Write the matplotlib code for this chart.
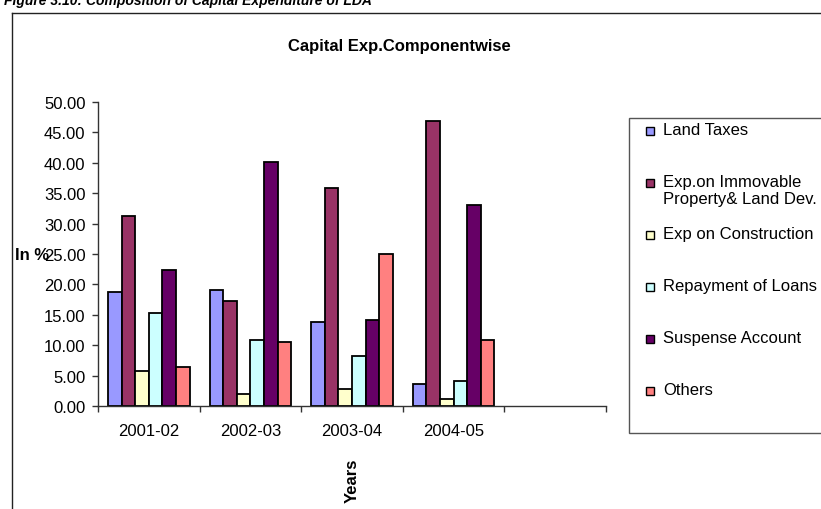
import numpy as np
import matplotlib
matplotlib.use("Agg")
from matplotlib import pyplot as plt
from matplotlib.patches import Rectangle
from matplotlib.lines import Line2D

# ----------------------------------------------------------------------------------------------------------------------
# dados (em %)

YEARS = ["2001-02", "2002-03", "2003-04", "2004-05"]

SERIES = ["Land Taxes", "Exp.on Immovable\nProperty& Land Dev.", "Exp on Construction",
          "Repayment of Loans", "Suspense Account", "Others"]

land_taxes = [18.8, 19.0, 13.8, 3.6]
immovable = [31.3, 17.2, 35.9, 46.9]
construction = [5.7, 2.0, 2.8, 1.2]
repayment = [15.3, 10.9, 8.3, 4.1]
suspense = [22.4, 40.1, 14.1, 33.1]
others = [6.4, 10.6, 25.0, 10.9]

COLORS = ["#9999FF", "#993366", "#FFFFCC", "#CCFFFF", "#660066", "#FF8080"]

# ----------------------------------------------------------------------------------------------------------------------

W, H = 821, 510
FONT = "Liberation Sans"
FS = 12


def px(x, y):
    """converte pixel (origem em cima a esquerda) para coordenadas da figura"""
    return x / W, 1 - y / H


def main():
    plt.rcParams['font.family'] = [FONT, 'DejaVu Sans']

    fig = plt.figure(figsize=(W / 100, H / 100), dpi=100)
    ax = fig.add_axes([98 / W, 103 / H, 508 / W, 304 / H])

    values = [land_taxes, immovable, construction, repayment, suspense, others]
    n = len(values)
    width = 0.134
    x = np.arange(len(YEARS))
    for i, (vals, color) in enumerate(zip(values, COLORS)):
        ax.bar(x + (i - (n - 1) / 2) * width, vals, width, color=color,
               edgecolor="black", linewidth=1.3)

    ax.set_xlim(-0.5, 4.5)
    ax.set_ylim(0, 50)
    ax.set_yticks(np.arange(0, 50.1, 5))
    ax.set_yticklabels(["%.2f" % v for v in np.arange(0, 50.1, 5)])
    ax.set_xticks(np.arange(-0.5, 4.6, 1))
    ax.set_xticklabels([])
    ax.set_xticks(x, minor=True)
    ax.set_xticklabels(YEARS, minor=True)
    ax.tick_params(axis="x", which="minor", length=0, pad=12, labelsize=FS)
    ax.tick_params(axis="x", which="major", length=4, width=1, color="#333333")
    ax.tick_params(axis="y", length=4, width=1, color="#333333", pad=5, labelsize=FS)

    for side in ("top", "right"):
        ax.spines[side].set_visible(False)
    for side in ("left", "bottom"):
        ax.spines[side].set_color("#333333")
        ax.spines[side].set_linewidth(1.0)

    # titulo e rotulos dos eixos
    fig.text(*px(399, 47), "Capital Exp.Componentwise", ha="center", va="center",
             fontsize=FS, fontweight="bold")
    fig.text(*px(15, 255), "In %", ha="left", va="center", fontsize=FS, fontweight="bold")
    fig.text(*px(352, 481), "Years", ha="center", va="center", rotation=90,
             fontsize=FS, fontweight="bold")

    # legenda do grafico
    fig.patches.append(Rectangle(px(629, 434), (W - 629 + 5) / W, (434 - 119) / H,
                                 transform=fig.transFigure, facecolor="white",
                                 edgecolor="#555555", linewidth=1.0))
    for i, (label, color) in enumerate(zip(SERIES, COLORS)):
        yc = 132 + 52 * i
        fig.patches.append(Rectangle(px(646, yc + 4), 8 / W, 8 / H, transform=fig.transFigure,
                                     facecolor=color, edgecolor="black", linewidth=1.0))
        fig.text(*px(663, yc - 9), label, ha="left", va="top", fontsize=FS, linespacing=1.2)

    # moldura externa e legenda da figura
    top = 1 - 14 / H
    fig.lines.append(Line2D([11.5 / W, 11.5 / W], [-0.1, top],
                            transform=fig.transFigure, color="#222222", linewidth=1.0))
    fig.lines.append(Line2D([11.5 / W, 1.1], [top, top],
                            transform=fig.transFigure, color="#222222", linewidth=1.0))
    fig.text(*px(4, 5), "Figure 3.10: Composition of Capital Expenditure of LDA", ha="left",
             va="baseline", fontsize=10, fontweight="bold", fontstyle="italic")

    fig.savefig("out.png", dpi=100)


if __name__ == "__main__":
    main()
